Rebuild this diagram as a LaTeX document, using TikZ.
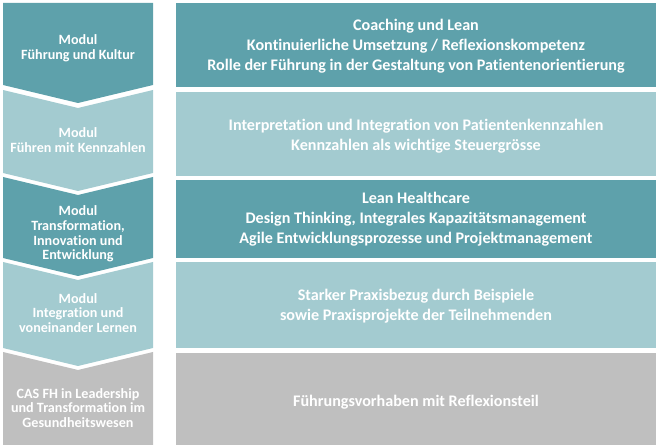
\documentclass[tikz,border=0pt]{standalone}
\usepackage{fontspec}
\setmainfont{Carlito}[Ligatures=NoCommon]
\definecolor{tealdark}{RGB}{94,161,171}
\definecolor{teallight}{RGB}{163,203,208}
\definecolor{greybox}{RGB}{191,191,191}

\begin{document}
\begin{tikzpicture}[x=0.75pt,y=-0.75pt,
		lefttext/.style={text=white,font=\bfseries\fontsize{10.6}{11}\selectfont,align=center},
		righttext/.style={text=white,font=\bfseries\fontsize{12.1}{14.8}\selectfont,align=center}]
			%%%%% START %%%%%
			
			\useasboundingbox (0,0) rectangle (660,448);
			
			\fill[tealdark] (3,3) -- (153,3) -- (153,85) -- (78,103) -- (3,85) -- cycle;
			\fill[teallight] (3,90) -- (78,108) -- (153,90) -- (153,173) -- (78,191) -- (3,173) -- cycle;
			\fill[tealdark] (3,177) -- (78,195) -- (153,177) -- (153,258) -- (78,276) -- (3,258) -- cycle;
			\fill[teallight] (3,262) -- (78,280) -- (153,262) -- (153,348) -- (78,366) -- (3,348) -- cycle;
			\fill[greybox] (3,352) -- (78,370) -- (153,352) -- (153,445) -- (3,445) -- cycle;
			
			\fill[tealdark] (176,3) rectangle (656,87);
			\fill[teallight] (176,92) rectangle (656,176);
			\fill[tealdark] (176,180) rectangle (656,258);
			\fill[teallight] (176,262) rectangle (656,348);
			\fill[greybox] (176,353) rectangle (656,445);
			
			\node[lefttext] (modfuehrung) at (78,48) {Modul\\Führung und Kultur};
			\node[lefttext] (modkennzahlen) at (78,140) {Modul\\Führen mit Kennzahlen};
			\node[lefttext] (modtransform) at (78,234) {Modul\\Transformation,\\Innovation und\\Entwicklung};
			\node[lefttext] (modintegration) at (78,313) {Modul\\Integration und\\voneinander Lernen};
			\node[lefttext] (cas) at (78,408) {CAS FH in Leadership\\und Transformation im\\Gesundheitswesen};
			
			\node[righttext] (inhfuehrung) at (416,46) {Coaching und Lean\\Kontinuierliche Umsetzung / Reflexionskompetenz\\Rolle der Führung in der Gestaltung von Patientenorientierung};
			\node[righttext] (inhkennzahlen) at (416,136) {Interpretation und Integration von Patientenkennzahlen\\Kennzahlen als wichtige Steuergrösse};
			\node[righttext] (inhtransform) at (416,219) {Lean Healthcare\\Design Thinking, Integrales Kapazitätsmanagement\\Agile Entwicklungsprozesse und Projektmanagement};
			\node[righttext] (inhintegration) at (416,306) {Starker Praxisbezug durch Beispiele\\sowie Praxisprojekte der Teilnehmenden};
			\node[righttext] (inhcas) at (416,402) {Führungsvorhaben mit Reflexionsteil};
			
			%%%%% END %%%%%
		\end{tikzpicture}
\end{document}
